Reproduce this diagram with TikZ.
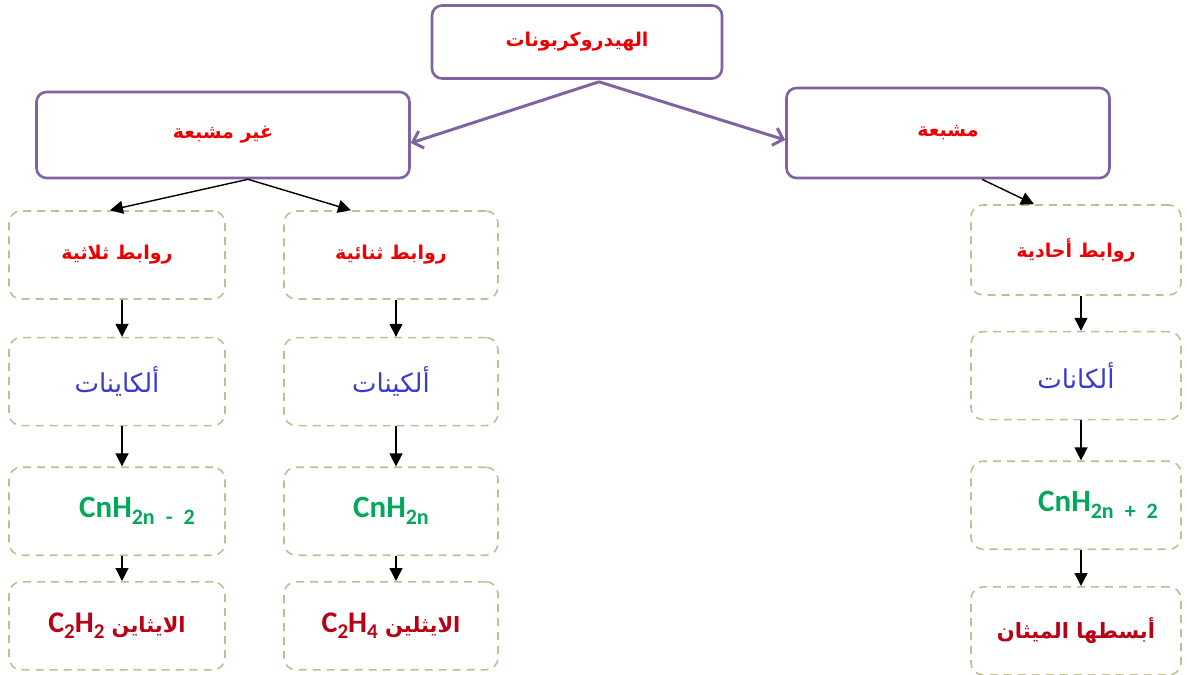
\documentclass[tikz,border=0pt]{standalone}
\usepackage{fontspec}
\setmainfont{Carlito}
\newfontfamily\arabicfont[Script=Arabic]{DejaVu Sans}
\TeXXeTstate=1
\usetikzlibrary{arrows.meta,positioning}
\definecolor{frame}{RGB}{128,100,162}
\definecolor{dashline}{RGB}{192,190,150}
\definecolor{redtxt}{RGB}{238,0,0}
\definecolor{bluetxt}{RGB}{58,58,205}
\definecolor{greentxt}{RGB}{0,168,90}
\definecolor{darkred}{RGB}{185,0,20}
\newcommand\artext[1]{{\arabicfont\beginR #1\endR}}
\newcommand\chemsub[2]{\raisebox{-0.45ex}{\fontsize{#1}{#1}\selectfont #2}}
\newcommand\latin[1]{\beginL{\rmfamily\fontsize{30}{34}\selectfont #1}\endL}
\tikzset{pin/.style={-{Triangle[length=13pt,width=13pt]}, line width=1.4pt},
  bigpin/.style={draw=frame, line width=3pt, -{Straight Barb[length=9pt,width=18pt]}},
  head/.style={draw=frame, line width=2.6pt, rounded corners=10pt, text=redtxt,
    font=\bfseries\fontsize{19}{22}\selectfont},
  leaf/.style={draw=dashline, line width=1.6pt, dash pattern=on 8pt off 6pt,
    rounded corners=12pt, minimum width=214pt, minimum height=88pt},
  bond/.style={leaf, text=redtxt, font=\bfseries\fontsize{19}{22}\selectfont},
  fam/.style={leaf, text=bluetxt, font=\fontsize{26}{30}\selectfont},
  formula/.style={leaf, text=greentxt, font=\bfseries\fontsize{31}{34}\selectfont},
  sample/.style={leaf, text=darkred, font=\bfseries\fontsize{21}{25}\selectfont}}

\begin{document}
\begin{tikzpicture}[x=1pt, y=1pt]
  \useasboundingbox (0,0) rectangle (1187,-675);
  \node[head, minimum width=290pt, minimum height=73pt] (hc) at (577,-42) {\artext{الهيدروكربونات}};
  \node[head, minimum width=373pt, minimum height=86pt] (unsat) at (223,-135) {\artext{غير مشبعة}};
  \node[head, minimum width=323pt, minimum height=90pt] (sat) at (948,-133) {\artext{مشبعة}};
  % triple bonds column
  \node[bond, minimum width=216pt] (tri) at (117,-255) {\artext{روابط ثلاثية}};
  \node[fam, minimum width=216pt, below=37pt of tri] (yne) {\artext{ألكاينات}};
  \node[formula, minimum width=216pt, below=40pt of yne] (yneF) {CnH\chemsub{22}{2n\rlap{\enspace-\enspace2}}};
  \node[sample, minimum width=216pt, below=25pt of yneF] (yneE) {\artext{الايثاين \latin{C\chemsub{21}{2}H\chemsub{21}{2}}}};
  % double bonds column
  \node[bond] (dbl) at (391,-255) {\artext{روابط ثنائية}};
  \node[fam, below=37pt of dbl] (ene) {\artext{ألكينات}};
  \node[formula, below=40pt of ene] (eneF) {CnH\chemsub{22}{2n}};
  \node[sample, below=25pt of eneF] (eneE) {\artext{الايثلين \latin{C\chemsub{21}{2}H\chemsub{21}{4}}}};
  % single bonds column
  \node[bond, minimum width=210pt, minimum height=90pt] (sgl) at (1076,-250) {\artext{روابط أحادية}};
  \node[fam, minimum width=210pt, below=35pt of sgl] (ane) {\artext{ألكانات}};
  \node[formula, minimum width=210pt, below=40pt of ane] (aneF) {CnH\chemsub{22}{2n\rlap{\enspace+\enspace2}}};
  \node[sample, minimum width=210pt, below=36pt of aneF] (aneE) {\artext{أبسطها الميثان}};
  % links
  \draw[bigpin] ([xshift=22pt,yshift=-2pt]hc.south) -- ([yshift=-8pt]unsat.east);
  \draw[bigpin] ([xshift=22pt,yshift=-2pt]hc.south) -- ([yshift=-7pt]sat.west);
  \draw[pin] ([xshift=25pt]unsat.south) -- ([xshift=-7pt]tri.north);
  \draw[pin] ([xshift=25pt]unsat.south) -- ([xshift=-40pt]dbl.north);
  \draw[pin] ([xshift=34pt]sat.south) -- ([xshift=-42pt]sgl.north);
  \foreach \a/\b in {tri/yne,yne/yneF,yneF/yneE,dbl/ene,ene/eneF,eneF/eneE,sgl/ane,ane/aneF,aneF/aneE}
    \draw[pin] ([xshift=5pt]\a.south) -- ([xshift=5pt]\b.north);
\end{tikzpicture}
\end{document}
